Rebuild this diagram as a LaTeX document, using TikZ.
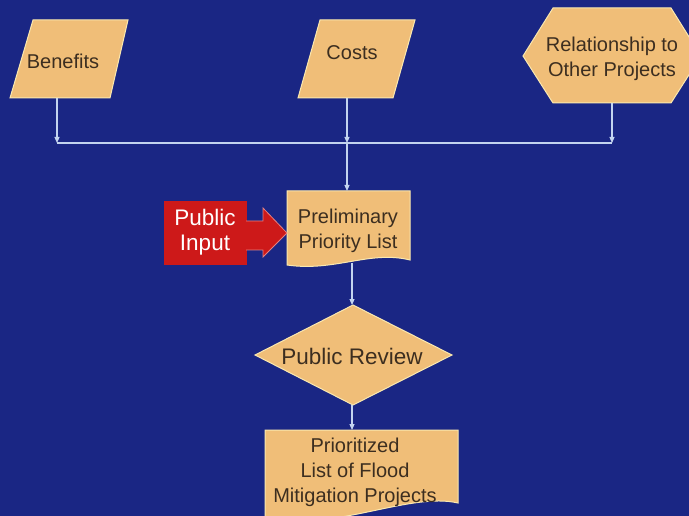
\documentclass[tikz,border=0pt]{standalone}
\usepackage{fontspec}
\setmainfont{Liberation Sans}
\usetikzlibrary{arrows.meta}
\definecolor{bg}{RGB}{26,38,132}
\definecolor{shapefill}{RGB}{240,190,120}
\definecolor{shapeline}{RGB}{250,232,175}
\definecolor{txt}{RGB}{60,46,32}
\definecolor{connc}{RGB}{195,212,240}
\definecolor{redbox}{RGB}{205,25,25}
\tikzset{
 shp/.style={fill=shapefill, draw=shapeline, line width=1pt, line join=miter},
 lbl/.style={text=txt, align=center, font=\fontsize{20}{25}\selectfont, inner sep=0pt},
 connector/.style={draw=connc, line width=1.1pt, -{Triangle[length=6pt,width=5pt]}},
 plainconn/.style={draw=connc, line width=1.1pt},
}
\begin{document}
\begin{tikzpicture}[x=1pt,y=-1pt]
\fill[bg] (0,0) rectangle (689,516);
\useasboundingbox (0,0) rectangle (689,516);
\clip (0,0) rectangle (689,516);

% shapes
\draw[shp] (33,20) -- (128,20) -- (110,98) -- (10,98) -- cycle;
\draw[shp] (320,20) -- (415,20) -- (393,98) -- (298,98) -- cycle;
\draw[shp] (523,56) -- (553,8) -- (671,8) -- (701,56) -- (671,103) -- (553,103) -- cycle;
\draw[shp] (287,191) -- (410,191) -- (410,260) .. controls (370,250) and (335,272) .. (287,265) -- cycle;
\draw[shp] (353,305) -- (452,355) -- (353,405) -- (255,355) -- cycle;
\draw[shp] (265,430) -- (458,430) -- (458,503) .. controls (410,492) and (340,530) .. (265,520) -- cycle;

% public input
\fill[redbox] (164,201) rectangle (247,265);
\filldraw[fill=redbox, draw=redbox!55!white, line width=0.8pt, line join=miter]
  (246,221) -- (263,221) -- (263,208) -- (287,233) -- (263,257) -- (263,250) -- (246,250);
\fill[redbox] (244,222) rectangle (262,249);

% labels
\node[lbl] (ben) at (63,61) {Benefits};
\node[lbl] (cost) at (352,53) {Costs};
\node[lbl] (rel) at (612,59) {Relationship to\\Other Projects};
\node[lbl] (pre) at (348,231) {Preliminary\\Priority List};
\node[lbl, text=white, font=\fontsize{22.5}{25}\selectfont] (pin) at (205,232) {Public\\Input};
\node[lbl, font=\fontsize{22.5}{25}\selectfont] (rev) at (352,356) {Public Review};
\node[lbl] (fin) at (355,472) {Prioritized\\List of Flood\\Mitigation Projects};

% connector points
\coordinate (benB) at (57,98);
\coordinate (j1) at (57,143);
\coordinate (costB) at (347,98);
\coordinate (j2) at (347,143);
\coordinate (relB) at (612,103);
\coordinate (j3) at (612,143);
\coordinate (preT) at (347,191);
\coordinate (preB) at (352,263);
\coordinate (revT) at (352,305);
\coordinate (revB) at (352,405);
\coordinate (finT) at (352,430);

\draw[plainconn] (j1) -- (j3);
\draw[connector] (benB) -- (j1);
\draw[connector] (costB) -- (j2);
\draw[connector] (relB) -- (j3);
\draw[connector] (j2) -- (preT);
\draw[connector] (preB) -- (revT);
\draw[connector] (revB) -- (finT);
\end{tikzpicture}
\end{document}
